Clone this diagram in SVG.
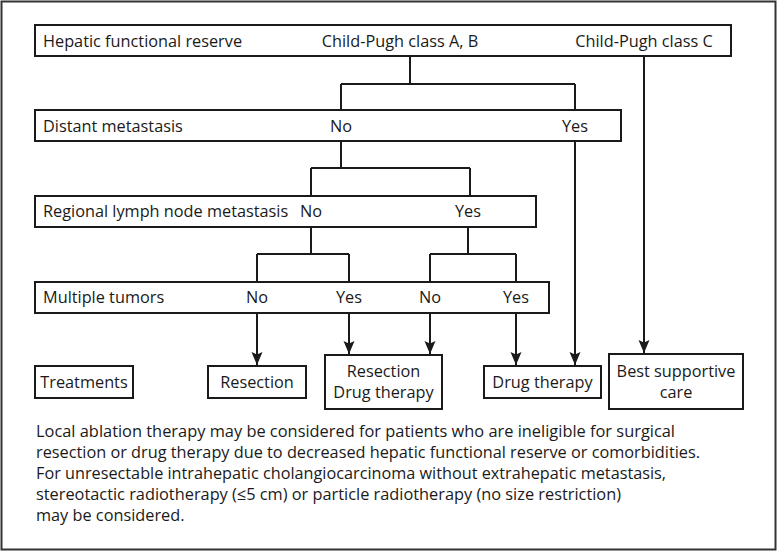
<svg xmlns="http://www.w3.org/2000/svg" width="778" height="552" viewBox="0 0 778 552">
<style>
text{font-family:"Open Sans","Noto Sans","Liberation Sans",sans-serif;font-size:16.3px;fill:#1a1a1a}
.box{fill:#fff;stroke:#1a1a1a;stroke-width:2}
.c{text-anchor:middle}
.ln{fill:none;stroke:#1a1a1a;stroke-width:2}
</style>
<defs>
<marker id="ah" markerUnits="userSpaceOnUse" markerWidth="14" markerHeight="12" refX="13" refY="6" orient="auto" viewBox="0 0 14 12">
<path d="M0,0.5 L13,6 L0,11.5 L2.5,6 Z" fill="#1a1a1a"/>
</marker>
</defs>
<rect x="1.5" y="1.5" width="774" height="548" fill="#fff" stroke="#333" stroke-width="2"/>
<g id="connectors">
<path class="ln" d="M410,56 V84 M341,84 H575 M341,84 V110 M575,84 V110"/>
<path class="ln" d="M341,141 V168 M311,168 H470 M311,168 V196 M470,168 V196"/>
<path class="ln" d="M311,227 V254 M257,254 H349 M257,254 V282 M349,254 V282"/>
<path class="ln" d="M468,227 V254 M430,254 H516 M430,254 V282 M516,254 V282"/>
<path class="ln" d="M257,313 V365" marker-end="url(#ah)"/>
<path class="ln" d="M349,313 V354" marker-end="url(#ah)"/>
<path class="ln" d="M430,313 V354" marker-end="url(#ah)"/>
<path class="ln" d="M516,313 V365" marker-end="url(#ah)"/>
<path class="ln" d="M575,141 V365" marker-end="url(#ah)"/>
<path class="ln" d="M644,56 V353" marker-end="url(#ah)"/>
</g>
<g id="hepatic">
<rect class="box" x="35" y="25" width="696" height="31"/>
<text x="43" y="47">Hepatic functional reserve</text>
<text class="c" x="400" y="47">Child-Pugh class A, B</text>
<text class="c" x="644" y="47">Child-Pugh class C</text>
</g>
<g id="distant">
<rect class="box" x="35" y="110" width="586" height="31"/>
<text x="43" y="132">Distant metastasis</text>
<text class="c" x="341" y="132">No</text>
<text class="c" x="575" y="132">Yes</text>
</g>
<g id="regional">
<rect class="box" x="35" y="196" width="501" height="31"/>
<text x="43" y="217">Regional lymph node metastasis</text>
<text class="c" x="311" y="217">No</text>
<text class="c" x="468" y="217">Yes</text>
</g>
<g id="multiple">
<rect class="box" x="35" y="282" width="514" height="31"/>
<text x="43" y="303">Multiple tumors</text>
<text class="c" x="257" y="303">No</text>
<text class="c" x="349" y="303">Yes</text>
<text class="c" x="430" y="303">No</text>
<text class="c" x="516" y="303">Yes</text>
</g>
<g id="treatments">
<rect class="box" x="35" y="366" width="98" height="32"/>
<text class="c" x="84" y="388">Treatments</text>
</g>
<g id="resection">
<rect class="box" x="208" y="366" width="98" height="32"/>
<text class="c" x="257" y="388">Resection</text>
</g>
<g id="resection-drug">
<rect class="box" x="325" y="355" width="117" height="54"/>
<text class="c" x="383.5" y="377">Resection</text>
<text class="c" x="383.5" y="398">Drug therapy</text>
</g>
<g id="drug">
<rect class="box" x="484" y="366" width="117" height="32"/>
<text class="c" x="542.5" y="388">Drug therapy</text>
</g>
<g id="bsc">
<rect class="box" x="609" y="354" width="134" height="55"/>
<text class="c" x="676" y="377">Best supportive</text>
<text class="c" x="676" y="398">care</text>
</g>
<g id="note">
<text x="36" y="437" textLength="639" lengthAdjust="spacingAndGlyphs">Local ablation therapy may be considered for patients who are ineligible for surgical</text>
<text x="36" y="458" textLength="664" lengthAdjust="spacingAndGlyphs">resection or drug therapy due to decreased hepatic functional reserve or comorbidities.</text>
<text x="36" y="479" textLength="630" lengthAdjust="spacingAndGlyphs">For unresectable intrahepatic cholangiocarcinoma without extrahepatic metastasis,</text>
<text x="36" y="500" textLength="585" lengthAdjust="spacingAndGlyphs">stereotactic radiotherapy (≤5 cm) or particle radiotherapy (no size restriction)</text>
<text x="36" y="521">may be considered.</text>
</g>
</svg>
